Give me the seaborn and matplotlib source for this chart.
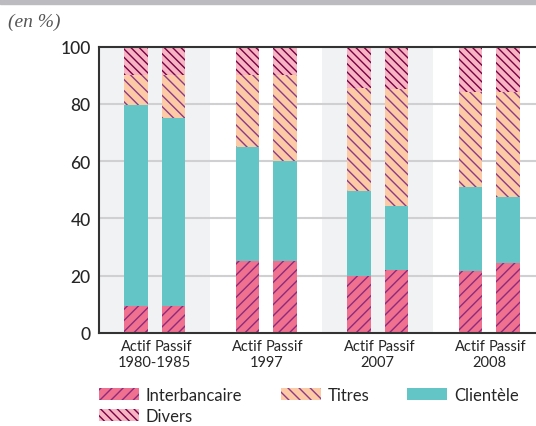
import matplotlib
matplotlib.use("Agg")
import matplotlib.pyplot as plt
from matplotlib.patches import Patch, Rectangle
import matplotlib.transforms as mtransforms
import numpy as np
import pandas as pd
import seaborn as sns

# Data (en %)
groups = ["1980-1985", "1997", "2007", "2008"]
sides = ["Actif", "Passif"]
categories = ["Interbancaire", "Clientèle", "Titres", "Divers"]

# share of each category, order: 1980 Actif, 1980 Passif, 1997 Actif, ...
interbancaire = [9.5, 9.5, 25, 25, 20, 22, 21.5, 24.5]
clientele = [70, 65.5, 40, 35, 29.5, 22.5, 29.5, 23]
titres = [10.5, 15, 25, 30, 36, 40.5, 33, 36.5]
divers = [10, 10, 10, 10, 14.5, 15, 16, 16]

colors = {"Interbancaire": "#f07090", "Clientèle": "#63c5c5",
          "Titres": "#fccba6", "Divers": "#f7b4c3"}
hatches = {"Interbancaire": "///", "Clientèle": "",
           "Titres": "\\\\\\", "Divers": "\\\\\\\\"}
hatch_colors = {"Interbancaire": "#8c2a7c", "Clientèle": "#63c5c5",
                "Titres": "#8c3a86", "Divers": "#7a0044"}

rows = []
vals = {"Interbancaire": interbancaire, "Clientèle": clientele,
        "Titres": titres, "Divers": divers}
for i, g in enumerate(groups):
    for j, s in enumerate(sides):
        k = i * 2 + j
        bottom = 0
        for c in categories:
            v = vals[c][k]
            rows.append({"group": g, "side": s, "cat": c,
                         "bottom": bottom, "top": bottom + v})
            bottom += v
df = pd.DataFrame(rows)

sns.set_style("white")
plt.rcParams["hatch.linewidth"] = 1.0

fig = plt.figure(figsize=(5.36, 4.27), dpi=100)
ax = fig.add_axes([99 / 536, 1 - 334 / 427, 1 - 99 / 536, 286.5 / 427])

# background bands for alternate groups
for g in [0, 2]:
    ax.axvspan(g - 0.5, g + 0.5, color="#f1f2f4", zorder=0, lw=0)

for y in [20, 40, 60, 80]:
    ax.axhline(y, color="#d0d0d3", lw=1.5, zorder=0.5)

# draw stacked layers from top to bottom so lower ones cover
for c in reversed(categories):
    sub = df[df["cat"] == c]
    n_before = len(ax.patches)
    sns.barplot(data=sub, x="group", y="top", hue="side", order=groups,
                hue_order=sides, dodge=True, width=0.67, gap=0.37,
                palette=[colors[c], colors[c]], saturation=1, legend=False,
                ax=ax, zorder=2, errorbar=None)
    for p in ax.patches[n_before:]:
        p.set_hatch(hatches[c])
        p.set_edgecolor(hatch_colors[c])
        p.set_linewidth(0)

ax.set_xlim(-0.5, 3.42)
ax.set_ylim(0, 100)
ax.set_yticks([0, 20, 40, 60, 80, 100])
ax.tick_params(axis="y", labelsize=12.5, length=0, pad=6)
ax.set_xticks([])
ax.set_xlabel("")
ax.set_ylabel("")
for lab in ax.get_yticklabels():
    lab.set_family(["Lato", "DejaVu Sans"])
    lab.set_fontweight("medium")

for side in ["left", "bottom", "top"]:
    ax.spines[side].set_color("#333333")
    ax.spines[side].set_linewidth(1.5)
ax.spines["right"].set_visible(False)

# x labels
trans = mtransforms.blended_transform_factory(ax.transData, ax.transAxes)
off = 0.67 / 4
lab_font = ["Lato", "DejaVu Sans"]
for i, g in enumerate(groups):
    ax.text(i - off, -0.022, "Actif", transform=trans, ha="center", va="top",
            fontsize=10.5, family=lab_font)
    ax.text(i + off, -0.022, "Passif", transform=trans, ha="center", va="top",
            fontsize=10.5, family=lab_font)
    ax.text(i, -0.078, g, transform=trans, ha="center", va="top",
            fontsize=10.5, family=lab_font)

# legend (column-major fill -> row-major look)
order = ["Interbancaire", "Divers", "Titres", "Clientèle"]
handles = [Patch(facecolor=colors[c], hatch=hatches[c],
                 edgecolor=hatch_colors[c], lw=0, label=c) for c in order]
fig.legend(handles=handles, loc="upper left", bbox_to_anchor=(0.157, 0.127),
           ncol=3, frameon=False, handlelength=2.4,
           handleheight=0.75, columnspacing=2.3, labelspacing=0.3,
           handletextpad=0.4, prop={"family": ["Lato", "DejaVu Sans"], "size": 12})

# top grey strip and unit label
fig.patches.append(Rectangle((0, 1 - 5 / 427), 1, 5 / 427,
                             transform=fig.transFigure, color="#bcbcc0"))
fig.text(8 / 536, 1 - 22 / 427, "(en %)", fontsize=14, style="italic",
         color="#555555", family=["Liberation Serif", "DejaVu Serif"],
         va="center")

fig.savefig("out.png", dpi=100)
